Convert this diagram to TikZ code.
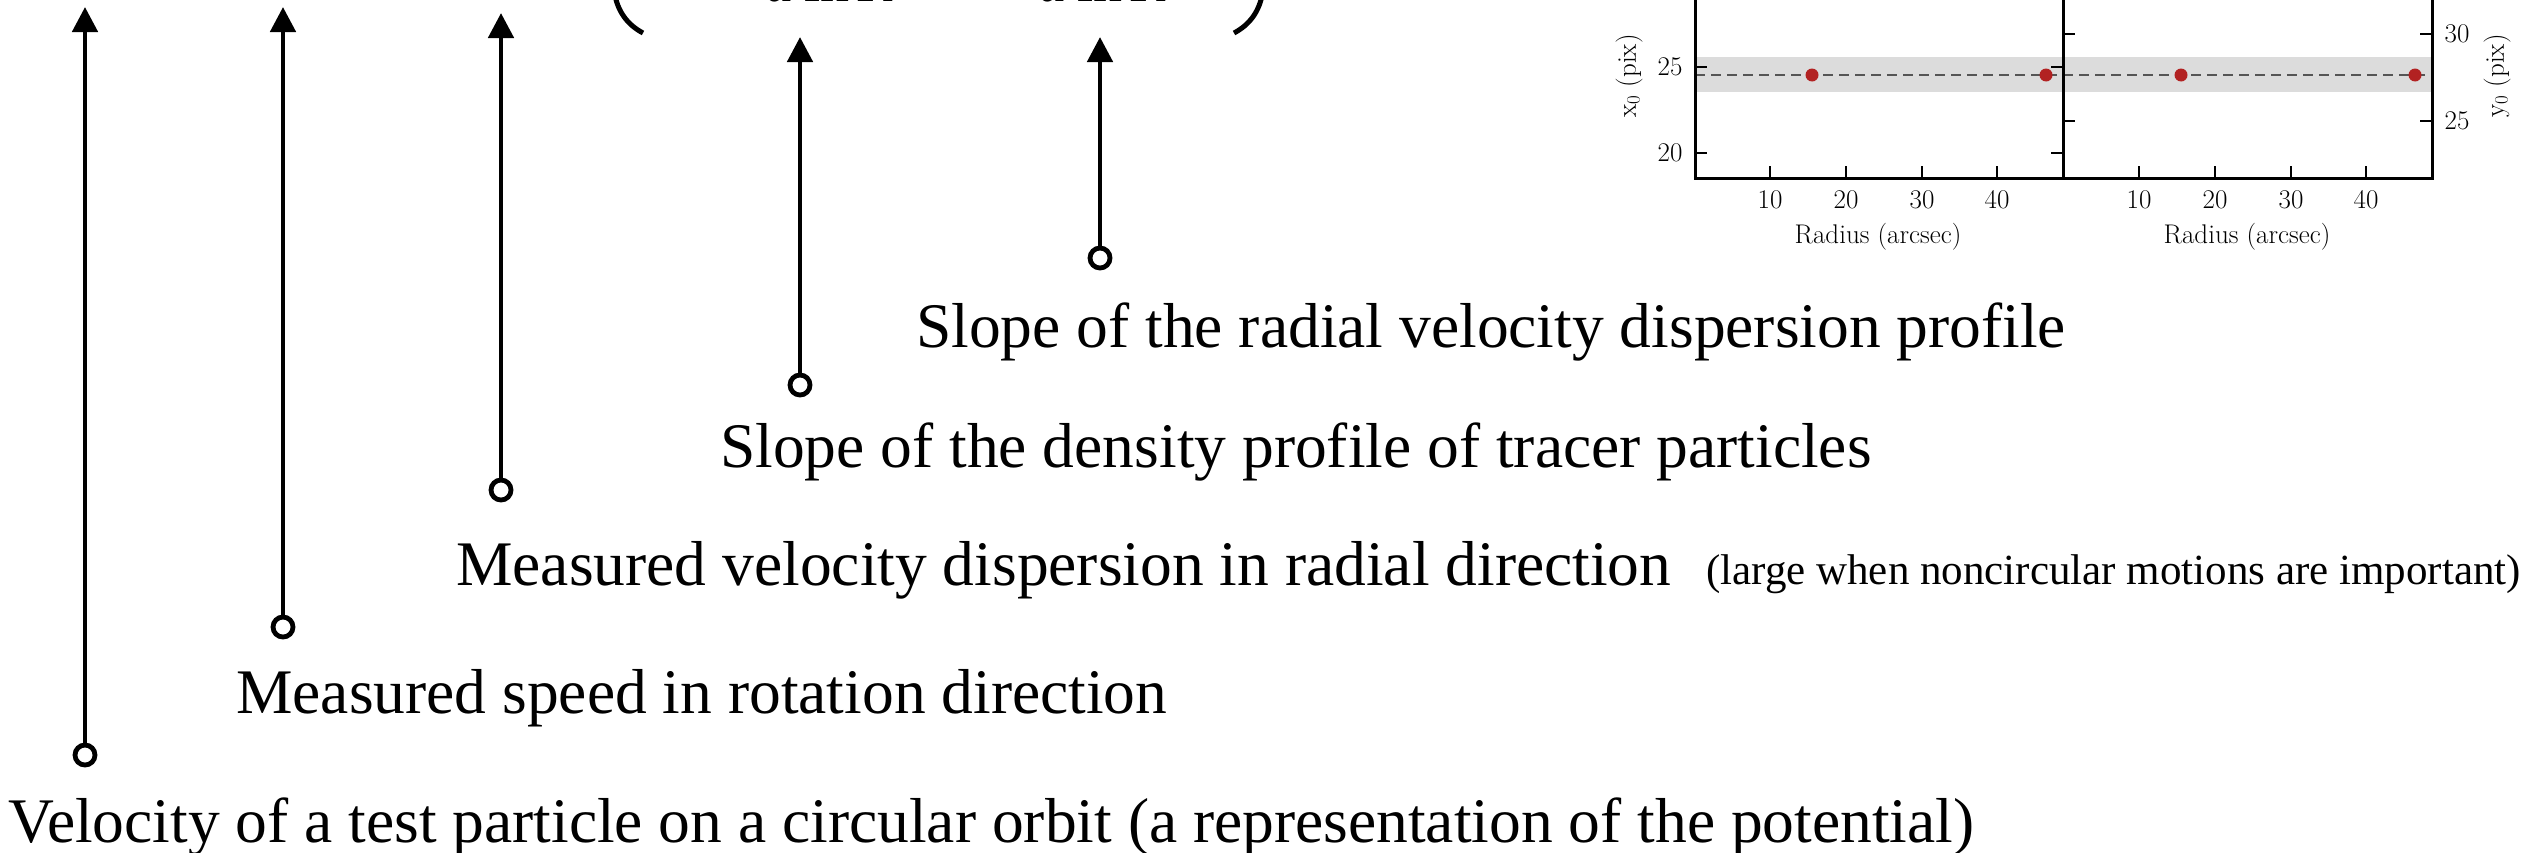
\documentclass[tikz,border=0pt]{standalone}
\usepackage{fontspec}
\setmainfont{Liberation Serif}
\usetikzlibrary{arrows.meta}
\definecolor{bandgray}{RGB}{220,220,220}
\definecolor{dashgray}{RGB}{85,85,85}
\definecolor{dotred}{RGB}{178,34,34}
\begin{document}
\begin{tikzpicture}[x=1pt,y=-1pt,
  ptr/.style={line width=4.8pt,-{Triangle[length=25pt,width=25pt]}},
  ring/.style={circle,draw,line width=4.8pt,minimum size=20pt,inner sep=0pt},
  lbl/.style={anchor=base west,inner sep=0pt,font=\fontsize{63.5pt}{70pt}\selectfont},
  smalllbl/.style={anchor=base west,inner sep=0pt,font=\fontsize{43pt}{48pt}\selectfont},
  denom/.style={anchor=base west,inner sep=0pt,font=\fontsize{58pt}{64pt}\selectfont},
  paren/.style={line width=5pt},
  axisline/.style={line width=3pt},
  tickmark/.style={line width=2.5pt},
  plotlbl/.style={inner sep=0pt,font=\fontfamily{lmr}\fontsize{27pt}{30pt}\selectfont},
  dot/.style={circle,fill=dotred,minimum size=13pt,inner sep=0pt},
  dashln/.style={dashgray,line width=2.5pt,dash pattern=on 10pt off 6pt},
]
\useasboundingbox (0,0) rectangle (2534,852);
\clip (0,0) rectangle (2534,852);

% --- cut-off equation at top ---
\draw[paren] (614,-10) .. controls (617,12) and (628,25) .. (643,33);
\draw[paren] (1263,-10) .. controls (1260,12) and (1249,25) .. (1234,33);
\node[denom] (d1) at (765,1) {\textit{d}\,ln\,\textit{R}};
\node[denom] (d2) at (1038,1) {\textit{d}\,ln\,\textit{R}};

% --- labels ---
\node[lbl] (l5) at (916,347) {Slope of the radial velocity dispersion profile};
\node[lbl] (l4) at (720,467) {Slope of the density profile of tracer particles};
\node[lbl] (l3) at (456,585) {Measured velocity dispersion in radial direction};
\node[smalllbl] (l3b) at (1706,584) {(large when noncircular motions are important)};
\node[lbl] (l2) at (236,713) {Measured speed in rotation direction};
\node[lbl] (l1) at (8,842) {Velocity of a test particle on a circular orbit (a representation of the potential)};

% --- pointers ---
\node[ring] (c1) at (85,755) {};
\node[ring] (c2) at (283,627) {};
\node[ring] (c3) at (501,490) {};
\node[ring] (c4) at (800,385) {};
\node[ring] (c5) at (1100,258) {};
\coordinate (t1) at (85,7);
\coordinate (t2) at (283,7);
\coordinate (t3) at (501,13);
\coordinate (t4) at (800,37);
\coordinate (t5) at (1100,37);
\draw[ptr] (c1) -- (t1);
\draw[ptr] (c2) -- (t2);
\draw[ptr] (c3) -- (t3);
\draw[ptr] (c4) -- (t4);
\draw[ptr] (c5) -- (t5);

% --- plot panels ---
\fill[bandgray] (1695,57) rectangle (2432,92);
\draw[dashln] (1695,75) -- (2432,75);
\node[dot] (p1) at (1812,75) {};
\node[dot] (p2) at (2046,75) {};
\node[dot] (p3) at (2181,75) {};
\node[dot] (p4) at (2415,75) {};

\draw[axisline] (1695,-5) -- (1695,178) -- (2432,178) -- (2432,-5);
\draw[axisline] (2063,-5) -- (2063,180);

% y ticks
\foreach \yy in {67,153} {
  \draw[tickmark] (1695,\yy) -- (1707,\yy);
  \draw[tickmark] (2063,\yy) -- (2051,\yy);
}
\foreach \yy in {34,121} {
  \draw[tickmark] (2063,\yy) -- (2075,\yy);
  \draw[tickmark] (2432,\yy) -- (2420,\yy);
}
% x ticks
\foreach \xx in {1770,1846,1922,1997,2139,2215,2291,2366} {
  \draw[tickmark] (\xx,178) -- (\xx,166);
}

% tick labels
\node[plotlbl] (ya1) at (1670,67) {25};
\node[plotlbl] (ya2) at (1670,153) {20};
\node[plotlbl] (yb1) at (2457,34) {30};
\node[plotlbl] (yb2) at (2457,121) {25};
\node[plotlbl] (xa1) at (1770,200) {10};
\node[plotlbl] (xa2) at (1846,200) {20};
\node[plotlbl] (xa3) at (1922,200) {30};
\node[plotlbl] (xa4) at (1997,200) {40};
\node[plotlbl] (xb1) at (2139,200) {10};
\node[plotlbl] (xb2) at (2215,200) {20};
\node[plotlbl] (xb3) at (2291,200) {30};
\node[plotlbl] (xb4) at (2366,200) {40};
\node[plotlbl] (xla) at (1878,237) {Radius (arcsec)};
\node[plotlbl] (xlb) at (2247,237) {Radius (arcsec)};
\node[plotlbl,rotate=90] (yla) at (1629,76) {x\textsubscript{0} (pix)};
\node[plotlbl,rotate=90] (ylb) at (2497,76) {y\textsubscript{0} (pix)};
\end{tikzpicture}
\end{document}
